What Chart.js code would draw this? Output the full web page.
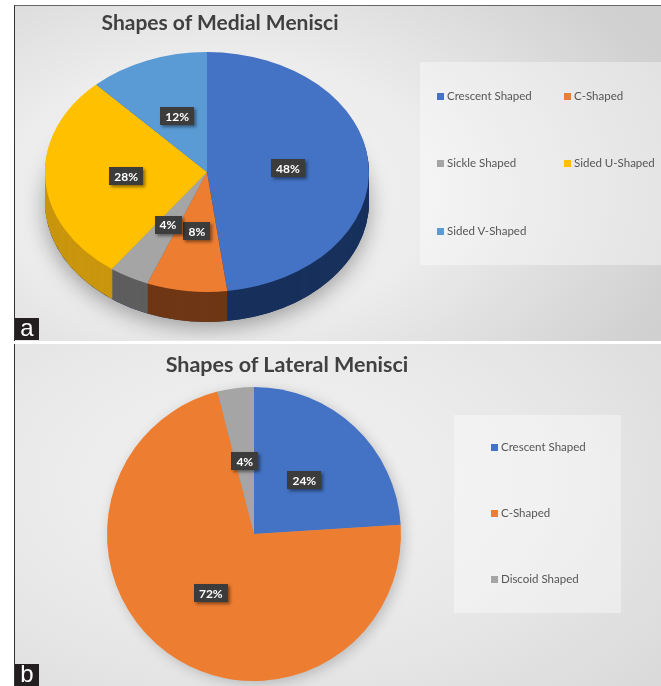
<!DOCTYPE html>
<html>
<head>
<meta charset="utf-8">
<script src="https://cdn.jsdelivr.net/npm/chart.js@4.4.1/dist/chart.umd.min.js"></script>
<style>
  html, body { margin: 0; padding: 0; background: #fff; }
  body { width: 661px; height: 686px; position: relative; overflow: hidden; font-family: Lato, "Open Sans", sans-serif; }
  .panel { position: absolute; left: 14px; width: 646px; border-left: 1px solid #333; border-right: 1px solid #555; }
  #pa { top: 5px; height: 335px; border-top: 1px solid #666;
        background: radial-gradient(ellipse 75% 90% at 32% 55%, #f6f6f6 0%, #ececec 45%, #d0d0d0 100%); }
  #pb { top: 344px; height: 342px;
        background: radial-gradient(ellipse 80% 90% at 38% 40%, #f3f3f3 0%, #e8e8e8 55%, #dadada 100%); }
  canvas { position: absolute; left: 0; top: 0; }
  .title { position: absolute; font-weight: bold; color: #404040; white-space: nowrap; transform: translateX(-50%); }
  .lgbox { position: absolute; background: rgba(255,255,255,0.38); }
  .lg { position: absolute; font-size: 11.5px; color: #555; white-space: nowrap; line-height: 12px; }
  .lg i { display: inline-block; width: 7px; height: 7px; margin-right: 3px; vertical-align: 0px; }
  .tag { position: absolute; left: 0; width: 24px; height: 22px; background: #231f20; color: #fff;
         font-family: "Liberation Sans", Arial, sans-serif; font-size: 24px; line-height: 20px; text-align: center; }
</style>
</head>
<body>
<div class="panel" id="pa">
  <canvas id="chartA" width="645" height="334"></canvas>
  <div class="title" style="left:205px; top:3px; font-size:21px;">Shapes of Medial Menisci</div>
  <div class="lgbox" style="left:405px; top:56px; width:241px; height:203px;"></div>
  <div id="legendA"></div>
  <div class="tag" style="top:312px;">a</div>
</div>
<div class="panel" id="pb">
  <canvas id="chartB" width="645" height="342"></canvas>
  <div class="title" style="left:272px; top:7px; font-size:21.5px;">Shapes of Lateral Menisci</div>
  <div class="lgbox" style="left:439px; top:71px; width:167px; height:198px;"></div>
  <div id="legendB"></div>
  <div class="tag" style="top:320px;">b</div>
</div>
<script>
  // Medial menisci (a)
  const labelsA = ["Crescent Shaped", "C-Shaped", "Sickle Shaped", "Sided U-Shaped", "Sided V-Shaped"];
  const valuesA = [48, 8, 4, 28, 12];
  // Lateral menisci (b)
  const labelsB = ["Crescent Shaped", "C-Shaped", "Discoid Shaped"];
  const valuesB = [24, 72, 4];

  const COLORS = ["#4472c4", "#ed7d31", "#a5a5a5", "#ffc000", "#5b9bd5"];
  const SIDES  = ["#17305c", "#6f3715", "#5e5e5e", "#c9960e", "#3b6a96"];

  const TILT = 0.74;   // vertical squash of pie a
  const DEPTH = 30;    // thickness of pie a, px

  function drawTag(ctx, x, y, txt) {
    ctx.save();
    ctx.font = "bold 12px Lato, sans-serif";
    const w = ctx.measureText(txt).width + 10, h = 18;
    ctx.shadowColor = "rgba(0,0,0,0.45)";
    ctx.shadowBlur = 3; ctx.shadowOffsetX = 2; ctx.shadowOffsetY = 2;
    ctx.fillStyle = "#3c3c3c";
    ctx.fillRect(Math.round(x - w / 2), Math.round(y - h / 2), Math.round(w), h);
    ctx.shadowColor = "transparent";
    ctx.fillStyle = "#fff";
    ctx.textAlign = "center"; ctx.textBaseline = "middle";
    ctx.fillText(txt, x, y + 1);
    ctx.restore();
  }

  // draws the pie a tilted with a side wall, labels on top
  const tiltPlugin = {
    id: "tilt",
    beforeDatasetsDraw(chart) {
      const ctx = chart.ctx;
      const arcs = chart.getDatasetMeta(0).data;
      const cx = arcs[0].x, cy = arcs[0].y, r = arcs[0].outerRadius;
      ctx.save();
      ctx.translate(cx, cy); ctx.scale(1, TILT); ctx.translate(-cx, -cy);
      // soft shadow under the pie
      ctx.save();
      ctx.shadowColor = "rgba(0,0,0,0.35)";
      ctx.shadowBlur = 22; ctx.shadowOffsetY = 6;
      ctx.beginPath(); ctx.arc(cx, cy + DEPTH / TILT, r, 0, Math.PI * 2);
      ctx.fillStyle = SIDES[0]; ctx.fill();
      ctx.restore();
      for (let d = DEPTH; d > 0; d--) {
        arcs.forEach((a, i) => {
          const oy = a.y + d / TILT;
          ctx.beginPath(); ctx.moveTo(a.x, oy);
          ctx.arc(a.x, oy, a.outerRadius, a.startAngle, a.endAngle);
          ctx.closePath();
          ctx.fillStyle = SIDES[i]; ctx.fill();
        });
      }
    },
    afterDatasetsDraw(chart) {
      const ctx = chart.ctx;
      ctx.restore();
      const arcs = chart.getDatasetMeta(0).data;
      arcs.forEach((a, i) => {
        const p = a.tooltipPosition();
        drawTag(ctx, p.x, a.y + (p.y - a.y) * TILT, valuesA[i] + "%");
      });
    }
  };

  const flatPlugin = {
    id: "flat",
    beforeDatasetsDraw(chart) {
      const ctx = chart.ctx;
      const a = chart.getDatasetMeta(0).data[0];
      ctx.save();
      ctx.shadowColor = "rgba(0,0,0,0.22)";
      ctx.shadowBlur = 14; ctx.shadowOffsetX = 3; ctx.shadowOffsetY = 3;
      ctx.beginPath(); ctx.arc(a.x, a.y, a.outerRadius - 1, 0, Math.PI * 2);
      ctx.fillStyle = "#999"; ctx.fill();
      ctx.restore();
    },
    afterDatasetsDraw(chart) {
      chart.getDatasetMeta(0).data.forEach((a, i) => {
        const p = a.tooltipPosition();
        drawTag(chart.ctx, p.x, p.y, valuesB[i] + "%");
      });
    }
  };

  function pieOptions(padding) {
    return {
      responsive: false,
      animation: false,
      events: [],
      layout: { padding },
      plugins: { legend: { display: false }, tooltip: { enabled: false }, title: { display: false } }
    };
  }

  new Chart(document.getElementById("chartA"), {
    type: "pie",
    data: {
      labels: labelsA,
      datasets: [{ data: valuesA, backgroundColor: COLORS, borderWidth: 0, hoverOffset: 0, offset: 0, radius: 162 }]
    },
    options: pieOptions({ left: 30, right: 291, top: 2, bottom: 4 }),
    plugins: [tiltPlugin]
  });

  new Chart(document.getElementById("chartB"), {
    type: "pie",
    data: {
      labels: labelsB,
      datasets: [{ data: valuesB, backgroundColor: COLORS.slice(0, 3), borderWidth: 0, hoverOffset: 0, offset: 0, radius: 147 }]
    },
    options: pieOptions({ left: 89, right: 256, top: 40, bottom: 2 }),
    plugins: [flatPlugin]
  });

  // legends
  function legend(el, labels, spots) {
    labels.forEach((l, i) => {
      const d = document.createElement("div");
      d.className = "lg";
      d.style.left = spots[i][0] + "px";
      d.style.top = spots[i][1] + "px";
      d.innerHTML = '<i style="background:' + COLORS[i] + '"></i>' + l;
      el.appendChild(d);
    });
  }
  legend(document.getElementById("legendA"), labelsA,
    [[422, 84], [549, 84], [422, 151], [549, 151], [422, 219]]);
  legend(document.getElementById("legendB"), labelsB,
    [[476, 97], [476, 163], [476, 229]]);
</script>
</body>
</html>
